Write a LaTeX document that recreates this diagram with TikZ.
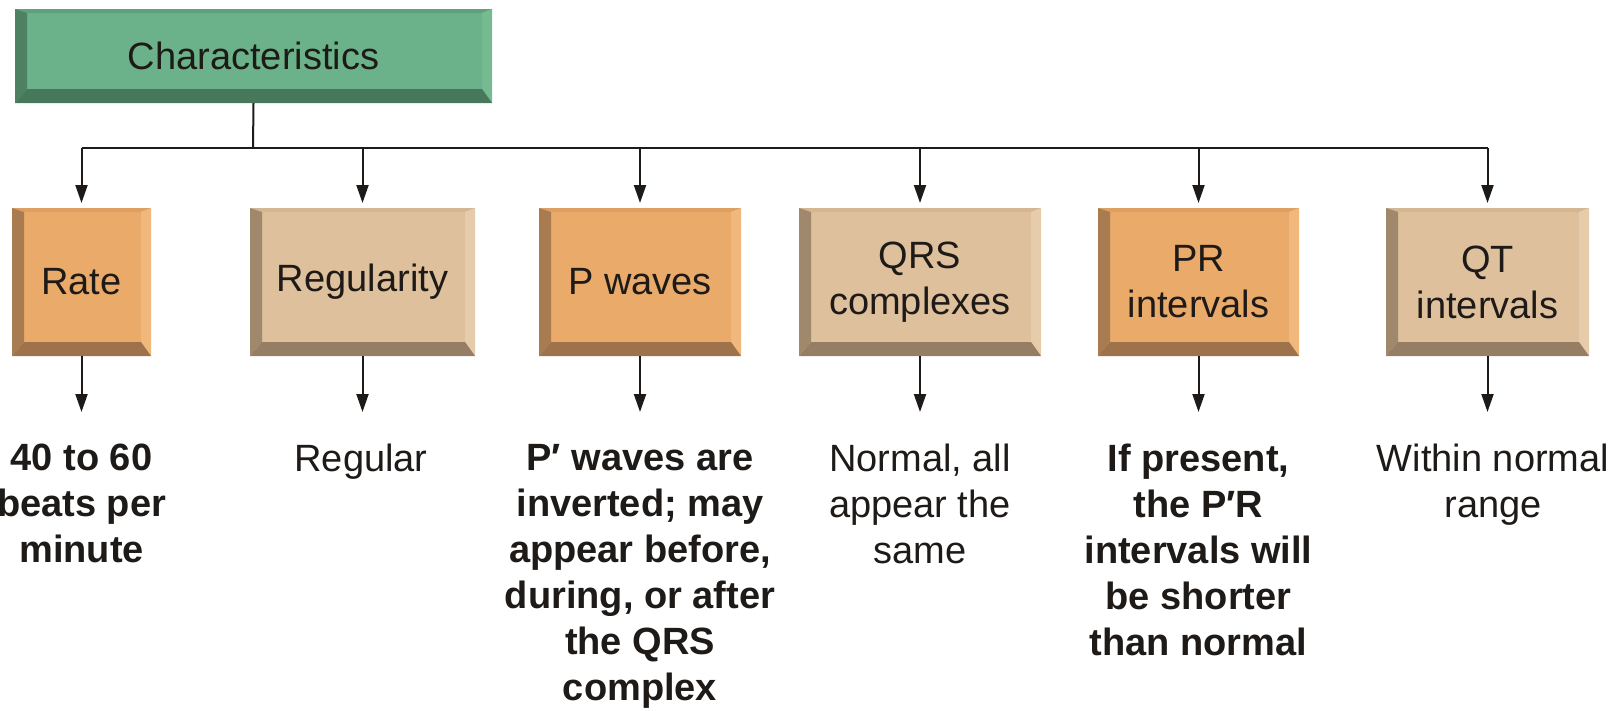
\documentclass[tikz,border=0pt]{standalone}
\usepackage{fontspec}
\setmainfont{Liberation Sans}
\usetikzlibrary{arrows.meta,calc}

\definecolor{greenface}{RGB}{107,178,138}
\definecolor{greenleft}{RGB}{78,128,98}
\definecolor{greenbottom}{RGB}{72,120,92}
\definecolor{greentop}{RGB}{96,160,124}
\definecolor{greenright}{RGB}{118,186,146}
\definecolor{orangeface}{RGB}{233,170,106}
\definecolor{orangeleft}{RGB}{168,124,80}
\definecolor{orangebottom}{RGB}{158,114,74}
\definecolor{orangetop}{RGB}{222,160,98}
\definecolor{orangeright}{RGB}{240,184,124}
\definecolor{beigeface}{RGB}{222,192,156}
\definecolor{beigeleft}{RGB}{160,136,108}
\definecolor{beigebottom}{RGB}{150,126,100}
\definecolor{beigetop}{RGB}{212,182,146}
\definecolor{beigeright}{RGB}{230,204,170}
\definecolor{inkgray}{RGB}{30,26,24}

\newcommand{\bevel}[2]{%
  \fill[#2top] (#1.north west) -- (#1.north east) -- ($(#1.north east)+(-10,4)$) -- ($(#1.north west)+(12,4)$) -- cycle;
  \fill[#2right] (#1.north east) -- (#1.south east) -- ($(#1.south east)+(-10,-14)$) -- ($(#1.north east)+(-10,4)$) -- cycle;
  \fill[#2bottom] (#1.south west) -- (#1.south east) -- ($(#1.south east)+(-10,-14)$) -- ($(#1.south west)+(12,-14)$) -- cycle;
  \fill[#2left] (#1.north west) -- (#1.south west) -- ($(#1.south west)+(12,-14)$) -- ($(#1.north west)+(12,4)$) -- cycle;
}

\begin{document}
\begin{tikzpicture}[x=1pt, y=-1pt,
    key/.style={minimum height=148, inner sep=0, outer sep=0, align=center,
      font=\fontsize{38}{46}\selectfont, text=inkgray},
    note/.style={anchor=north, inner sep=0, outer sep=0, align=center,
      font=\fontsize{38}{46}\selectfont, text=inkgray},
    link/.style={line width=2pt, inkgray},
    arr/.style={link, -{Triangle[length=18pt,width=12pt]}}]
    \useasboundingbox (0,0) rectangle (1614,710);

    \node[key, fill=greenface, minimum width=477, minimum height=94] (head) at (253.5,56) {Characteristics};
    \node[key, fill=orangeface, minimum width=139] (rate) at (81.5,282) {Rate};
    \node[key, fill=beigeface, minimum width=225] (regularity) at (362.5,282) {Regularity};
    \node[key, fill=orangeface, minimum width=202] (pwaves) at (640,282) {P waves};
    \node[key, fill=beigeface, minimum width=242] (qrs) at (920,282) {QRS\\complexes};
    \node[key, fill=orangeface, minimum width=201] (pr) at (1198.5,282) {PR\\intervals};
    \node[key, fill=beigeface, minimum width=203] (qt) at (1487.5,282) {QT\\intervals};

    \bevel{head}{green}
    \bevel{rate}{orange}
    \bevel{regularity}{beige}
    \bevel{pwaves}{orange}
    \bevel{qrs}{beige}
    \bevel{pr}{orange}
    \bevel{qt}{beige}

    \node[note, font=\fontsize{38}{46}\selectfont\bfseries] (rate-txt) at (81.5,444) {40 to 60\\beats per\\minute};
    \node[note] (regularity-txt) at (361,444) {Regular};
    \node[note, font=\fontsize{38}{46}\selectfont\bfseries] (pwaves-txt) at (640,444) {P′ waves are\\inverted; may\\appear before,\\during, or after\\the QRS\\complex};
    \node[note] (qrs-txt) at (920,444) {Normal, all\\appear the\\same};
    \node[note, font=\fontsize{38}{46}\selectfont\bfseries] (pr-txt) at (1198.5,444) {If present,\\the P′R\\intervals will\\be shorter\\than normal};
    \node[note] (qt-txt) at (1493,444) {Within normal\\range};

    \coordinate (bus) at (253,148);
    \draw[link] (head.south) -- (bus);
    \draw[link] (rate.north |- bus) -- (qt.north |- bus);
    \foreach \b in {rate,regularity,pwaves,qrs,pr,qt}
        \draw[arr, shorten >=5pt] (\b.north |- bus) -- (\b.north);
    \foreach \b in {rate,regularity,pwaves,qrs,pr,qt}
        \draw[arr, shorten >=32pt] (\b.south) -- (\b.south |- \b-txt.north);
\end{tikzpicture}
\end{document}
